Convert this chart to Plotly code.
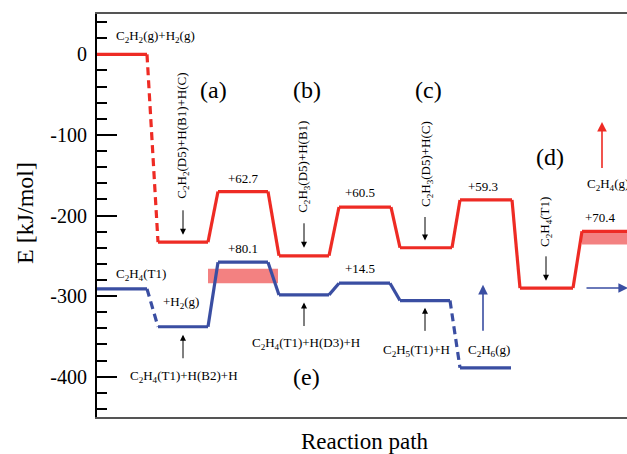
import plotly.graph_objects as go

# ---------------- data ----------------
# Red pathway (C2H2 + H2 on surface)
red_E = [0, -233.0, -170.3, -250.0, -189.5, -240.0, -180.7, -290.0, -219.6]
red_x0 = [0.0, 6.1, 12.1, 18.2, 24.2, 30.3, 36.3, 42.3, 48.5]
red_x1 = [5.0, 11.1, 17.1, 23.2, 29.4, 35.5, 41.5, 47.6, 56.0]
red_dashed = [0]          # index i: transition i -> i+1 drawn dashed

# Blue pathway (C2H4(T1) hydrogenation)
blue_E = [-291.0, -338.0, -257.9, -298.5, -284.0, -305.5, -389.0]
blue_x0 = [0.0, 6.1, 12.1, 18.2, 24.2, 30.3, 36.3]
blue_x1 = [5.0, 11.1, 17.1, 23.2, 29.3, 35.3, 41.4]
blue_dashed = [0, 5]

# Shaded uncertainty bands (x0, x1, E_low, E_high)
bands = [(11.1, 18.1, -284.0, -266.0), (48.5, 56.0, -236.0, -220.5)]

# Barrier labels
barrier_text = ["+62.7", "+60.5", "+59.3", "+70.4", "+80.1", "+14.5"]
barrier_x = [14.6, 26.3, 38.6, 50.3, 14.6, 26.3]
barrier_E = [-154.5, -172.0, -164.0, -203.0, -241.0, -266.0]

RED = "#ee2b24"
BLUE = "#3a4ea2"
PINK = "#f38181"
FONT = "Liberation Serif, Times New Roman, serif"


def build(E, x0, x1, dashed):
    sx, sy, dx, dy = [], [], [], []
    for i in range(len(E)):
        sx += [x0[i], x1[i], None]
        sy += [E[i], E[i], None]
        if i + 1 < len(E):
            seg_x = [x1[i], x0[i + 1], None]
            seg_y = [E[i], E[i + 1], None]
            if i in dashed:
                dx += seg_x
                dy += seg_y
            else:
                sx += seg_x
                sy += seg_y
    return sx, sy, dx, dy


fig = go.Figure()

for (bx0, bx1, by0, by1) in bands:
    fig.add_shape(type="rect", x0=bx0, x1=bx1, y0=by0, y1=by1,
                  fillcolor=PINK, line_width=0, layer="below")

for E, x0, x1, dsh, col in [(blue_E, blue_x0, blue_x1, blue_dashed, BLUE),
                            (red_E, red_x0, red_x1, red_dashed, RED)]:
    sx, sy, dx, dy = build(E, x0, x1, dsh)
    fig.add_trace(go.Scatter(x=sx, y=sy, mode="lines", line=dict(color=col, width=3.2),
                             hoverinfo="skip", showlegend=False))
    fig.add_trace(go.Scatter(x=dx, y=dy, mode="lines",
                             line=dict(color=col, width=3.2, dash="8px,5px"),
                             hoverinfo="skip", showlegend=False))

ann = []


def txt(x, y, t, size=13, angle=0, xanchor="center", color="black"):
    ann.append(dict(x=x, y=y, xref="x", yref="y", text=t, showarrow=False,
                    textangle=angle, xanchor=xanchor, yanchor="middle",
                    font=dict(family=FONT, size=size, color=color)))


def arrow(x, ytail, yhead, color="black", width=1, xhead=None, xtail=None, hs=1.2):
    ann.append(dict(x=xhead if xhead is not None else x, y=yhead,
                    ax=xtail if xtail is not None else x, ay=ytail,
                    xref="x", yref="y", axref="x", ayref="y", text="",
                    showarrow=True, arrowhead=2, arrowsize=hs, arrowwidth=width,
                    arrowcolor=color))


for t, x, y in zip(barrier_text, barrier_x, barrier_E):
    txt(x, y, t)

txt(1.7, 21.7, "C<sub>2</sub>H<sub>2</sub>(g)+H<sub>2</sub>(g)", xanchor="left")
txt(1.7, -273.6, "C<sub>2</sub>H<sub>4</sub>(T1)", xanchor="left")
txt(6.4, -308.0, "+H<sub>2</sub>(g)", xanchor="left")
txt(8.7, -400.0, "C<sub>2</sub>H<sub>4</sub>(T1)+H(B2)+H")
txt(20.9, -359.0, "C<sub>2</sub>H<sub>4</sub>(T1)+H(D3)+H")
txt(31.9, -368.0, "C<sub>2</sub>H<sub>5</sub>(T1)+H")
txt(39.2, -368.0, "C<sub>2</sub>H<sub>6</sub>(g)")
txt(48.8, -162.0, "C<sub>2</sub>H<sub>4</sub>(g)", xanchor="left")

txt(8.6, -101.0, "C<sub>2</sub>H<sub>2</sub>(D5)+H(B1)+H(C)", angle=-90)
txt(20.7, -139.6, "C<sub>2</sub>H<sub>3</sub>(D5)+H(B1)", angle=-90)
txt(33.0, -136.0, "C<sub>2</sub>H<sub>3</sub>(D5)+H(C)", angle=-90)
txt(44.9, -208.0, "C<sub>2</sub>H<sub>4</sub>(T1)", angle=-90)

for lab, x, y in [("(a)", 11.6, -44.0), ("(b)", 21.0, -44.0), ("(c)", 33.1, -44.0),
                  ("(d)", 45.3, -127.0), ("(e)", 20.9, -400.0)]:
    txt(x, y, lab, size=24)

# small black arrows
arrow(8.6, -191.7, -224.0)
arrow(20.7, -207.8, -240.0)
arrow(32.8, -200.0, -231.0)
arrow(44.9, -248.8, -281.0)
arrow(8.6, -379.0, -348.0)
arrow(20.7, -339.0, -308.0)
arrow(32.8, -345.0, -314.5)
# coloured arrows
arrow(38.6, -345.0, -286.0, color=BLUE, width=1.6)
arrow(50.5, -143.0, -84.0, color=RED, width=1.6)
arrow(None, -290.0, -290.0, color=BLUE, width=1.6, xhead=53.1, xtail=48.8)

# axis titles
ann.append(dict(x=-0.136, y=0.506, xref="paper", yref="paper", text="E [kJ/mol]",
                textangle=-90, showarrow=False, xanchor="center", yanchor="middle",
                font=dict(family=FONT, size=24, color="black")))
ann.append(dict(x=0.506, y=-0.062, xref="paper", yref="paper", text="Reaction path",
                showarrow=False, xanchor="center", yanchor="middle",
                font=dict(family=FONT, size=23, color="black")))

fig.update_layout(
    width=627, height=454,
    margin=dict(l=97, r=0, t=14, b=37),
    paper_bgcolor="white", plot_bgcolor="white",
    annotations=ann,
    xaxis=dict(range=[0, 53.0], showgrid=False, zeroline=False, showticklabels=False,
               ticks="", showline=True, linecolor="#555555", linewidth=2, mirror=True,
               layer="below traces"),
    yaxis=dict(range=[-450, 50], showgrid=False, zeroline=False,
               tickmode="array", tickvals=[0, -100, -200, -300, -400],
               ticktext=["0", "-100", "-200", "-300", "-400"],
               ticks="inside", ticklen=20, tickwidth=2, tickcolor="black",
               minor=dict(tickmode="array",
                          tickvals=[v for v in range(-440, 50, 20) if v % 100 != 0],
                          ticks="inside", ticklen=10, tickwidth=2, tickcolor="black"),
               showline=True, linecolor="black", linewidth=2,
               layer="below traces",
               tickfont=dict(family=FONT, size=20, color="black"),
               ticklabelstandoff=4),
)

fig.write_html("out.html")
